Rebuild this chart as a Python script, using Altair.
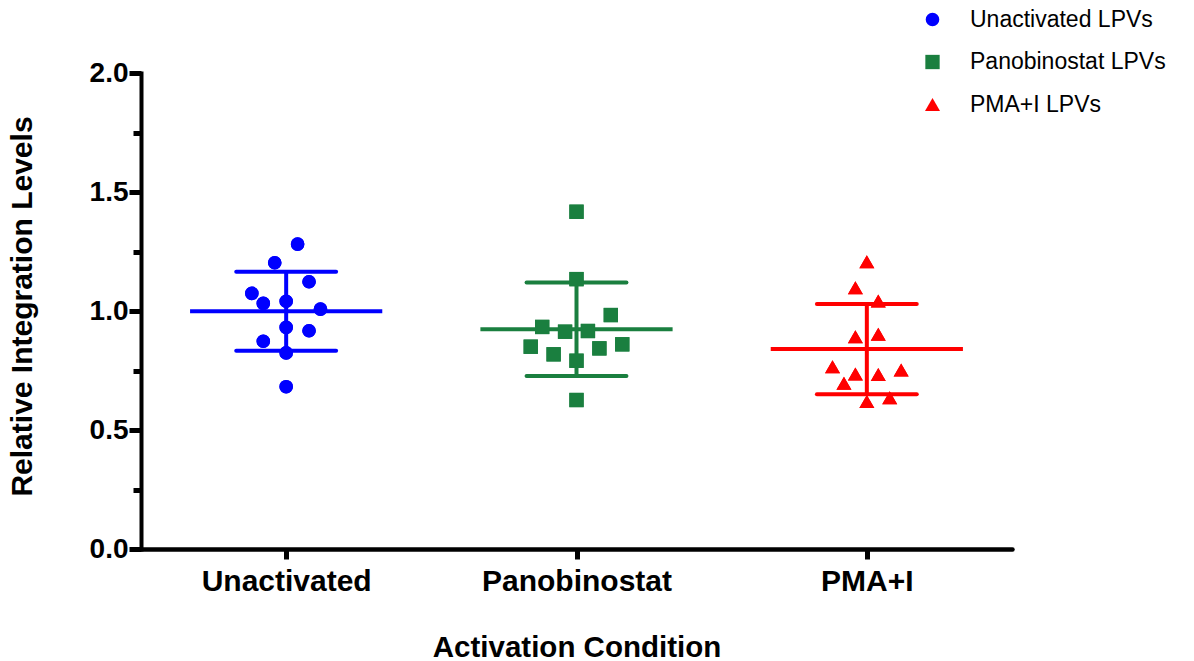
import json
import altair as alt
import pandas as pd

# ---------------- data ----------------
categories = ["Unactivated", "Panobinostat", "PMA+I"]
series_names = ["Unactivated LPVs", "Panobinostat LPVs", "PMA+I LPVs"]
colors = ["#0000ff", "#1a7f3f", "#ff0000"]
shapes = ["circle", "square", "triangle-up"]

unactivated_values = [1.281, 1.203, 1.123, 1.074, 1.032, 1.041, 1.008, 0.931, 0.917, 0.873, 0.824, 0.682]
unactivated_slots = [1, -1, 2, -3, -2, 0, 3, 0, 2, -2, 0, 0]

panobinostat_values = [1.417, 1.134, 0.983, 0.933, 0.913, 0.916, 0.850, 0.860, 0.818, 0.843, 0.791, 0.626]
panobinostat_slots = [0, 0, 3, -3, -1, 1, -4, 4, -2, 2, 0, 0]

pmai_values = [1.207, 1.098, 1.042, 0.892, 0.902, 0.766, 0.735, 0.733, 0.752, 0.696, 0.620, 0.636]
pmai_slots = [0, -1, 1, -1, 1, -3, -1, 1, 3, -2, 0, 2]

y_tick_values = [0, 0.25, 0.5, 0.75, 1.0, 1.25, 1.5, 1.75, 2.0]

groups = [
    (unactivated_values, unactivated_slots),
    (panobinostat_values, panobinostat_slots),
    (pmai_values, pmai_slots),
]
rows = []
for gi, (vals, slots) in enumerate(groups):
    for v, s in zip(vals, slots):
        rows.append({"group": gi, "category": categories[gi], "series": series_names[gi],
                     "value": v, "slot": s})
df = pd.DataFrame(rows)

# ---------------- styling constants ----------------
SLOT = 0.0394        # horizontal jitter step (x units)
MEAN_HALF = 0.331    # half-width of mean line
CAP_HALF = 0.172     # half-width of SD caps
BOLD_FONT = "Liberation Sans"
TICK_FONT = "Liberation Sans"

color_expr = json.dumps(colors) + "[datum.group]"
cat_expr = json.dumps(categories) + "[floor(datum.value)]"

x_scale = alt.Scale(domain=[0, 3], nice=False, zero=False)
y_scale = alt.Scale(domain=[0, 2], nice=False)

x_axis = alt.Axis(
    values=[0.5, 1.5, 2.5], labelExpr=cat_expr, title="Activation Condition",
    grid=False, tickSize=10, tickWidth=5, tickColor="black",
    domainColor="black", domainWidth=4.5, domainCap="round",
    labelFont=BOLD_FONT, labelFontWeight="bold", labelFontSize=30, labelColor="black",
    labelPadding=7, labelFlush=False, labelOverlap=False, labelLimit=0,
    titleFont=BOLD_FONT, titleFontWeight="bold", titleFontSize=29.5, titleColor="black",
    titleY=107, titleBaseline="alphabetic", titleLimit=0,
)
y_axis = alt.Axis(
    values=y_tick_values,
    labelExpr="datum.value % 0.5 === 0 ? format(datum.value, '.1f') : ''",
    title="Relative Integration Levels", grid=False,
    tickSize={"condition": {"test": "datum.value % 0.5 !== 0", "value": 8}, "value": 12},
    tickWidth=5, tickColor="black",
    domainColor="black", domainWidth=4, domainCap="square",
    labelFont=TICK_FONT, labelFontWeight="bold", labelFontSize=28, labelColor="black",
    labelPadding=1, labelFlush=False, labelOverlap=False, labelLimit=0,
    titleFont=BOLD_FONT, titleFontWeight="bold", titleFontSize=30, titleColor="black",
    titleAngle=-90, titleX=-110, titleY=233, titleBaseline="alphabetic", titleLimit=0,
)

legend = alt.Legend(
    title=None, orient="none", legendX=780, legendY=-65, padding=0,
    labelFont="Liberation Sans", labelFontSize=23, labelColor="black", labelLimit=0,
    symbolSize=220, labelOffset=26, rowPadding=18.5,
    symbolStrokeWidth=0, symbolOpacity=1,
)

base = alt.Chart(df)

points = base.transform_calculate(
    xpos=f"datum.group + 0.5 + datum.slot * {SLOT}"
).mark_point(filled=True, opacity=1, strokeWidth=0).encode(
    x=alt.X("xpos:Q", scale=x_scale, axis=x_axis),
    y=alt.Y("value:Q", scale=y_scale, axis=y_axis),
    color=alt.Color("series:N", scale=alt.Scale(domain=series_names, range=colors), legend=legend),
    shape=alt.Shape("series:N", scale=alt.Scale(domain=series_names, range=shapes), legend=legend),
    size=alt.Size("series:N", scale=alt.Scale(domain=series_names, range=[185, 225, 240]), legend=None),
)

stats = base.transform_aggregate(
    mean="mean(value)", sd="stdev(value)", groupby=["group"]
).transform_calculate(
    cx="datum.group + 0.5",
    lo="datum.mean - datum.sd",
    hi="datum.mean + datum.sd",
    mx1=f"datum.group + 0.5 - {MEAN_HALF}",
    mx2=f"datum.group + 0.5 + {MEAN_HALF}",
    cx1=f"datum.group + 0.5 - {CAP_HALF}",
    cx2=f"datum.group + 0.5 + {CAP_HALF}",
    col=color_expr,
)

col_enc = alt.Color("col:N", scale=None)

mean_rule = stats.mark_rule(strokeWidth=4, strokeCap="butt").encode(
    x=alt.X("mx1:Q", scale=x_scale), x2="mx2:Q", y=alt.Y("mean:Q", scale=y_scale), color=col_enc)
sd_vert = stats.mark_rule(strokeWidth=4, strokeCap="butt").encode(
    x=alt.X("cx:Q", scale=x_scale), y=alt.Y("lo:Q", scale=y_scale), y2="hi:Q", color=col_enc)
cap_hi = stats.mark_rule(strokeWidth=4, strokeCap="round").encode(
    x=alt.X("cx1:Q", scale=x_scale), x2="cx2:Q", y=alt.Y("hi:Q", scale=y_scale), color=col_enc)
cap_lo = stats.mark_rule(strokeWidth=4, strokeCap="round").encode(
    x=alt.X("cx1:Q", scale=x_scale), x2="cx2:Q", y=alt.Y("lo:Q", scale=y_scale), color=col_enc)

chart = alt.layer(points, mean_rule, sd_vert, cap_hi, cap_lo, points).properties(
    width=871, height=476,
    padding={"left": 141, "top": 73, "right": 182, "bottom": 112},
    autosize=alt.AutoSizeParams(type="none"),
    background="white",
).configure_view(stroke=None)

chart.save("out.html", embed_options={"renderer": "svg", "actions": False})
